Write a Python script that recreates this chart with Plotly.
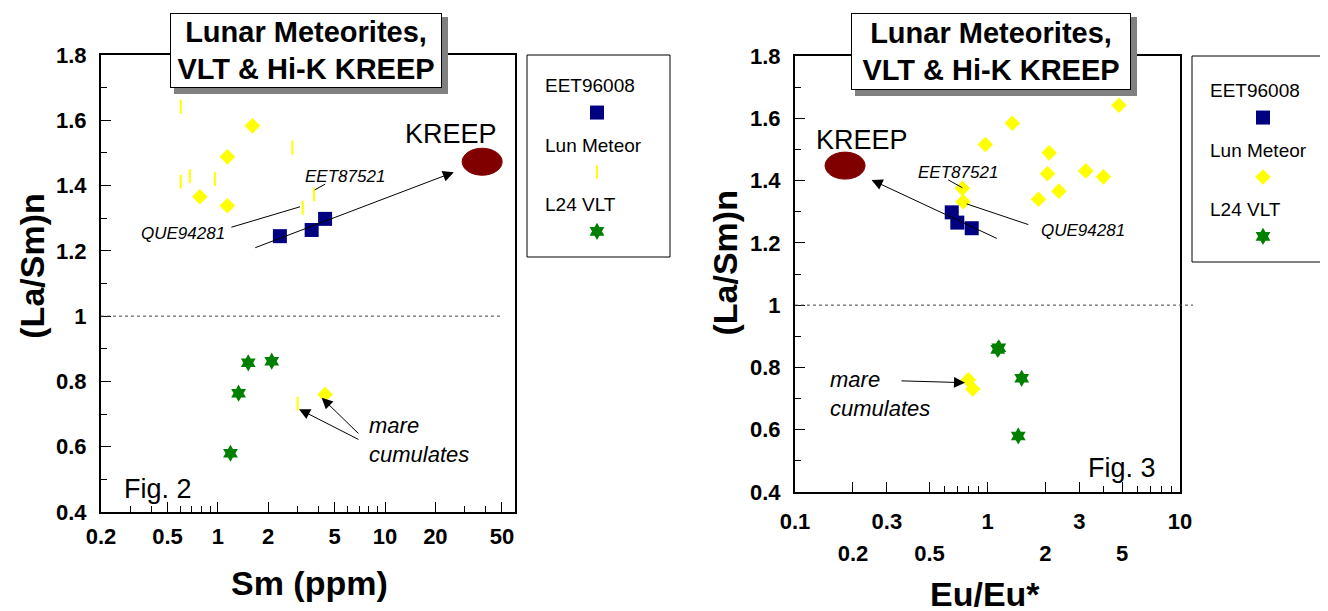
import numpy as np
import plotly.graph_objects as go

# ---------------- data: Fig. 2  (Sm ppm vs (La/Sm)n) ----------------
eet96008_sm = [2.35, 3.64, 4.38]
eet96008_lasm_f2 = [1.245, 1.264, 1.298]

lunmet_sm_bar = [0.60, 2.79, 0.60, 0.68, 0.96, 3.22, 3.76, 3.00]
lunmet_lasm_bar = [1.642, 1.516, 1.412, 1.429, 1.420, 1.332, 1.373, 0.732]
lunmet_sm_diam = [1.61, 1.14, 0.78, 1.14, 4.38]
lunmet_lasm_diam = [1.583, 1.488, 1.366, 1.338, 0.760]

l24_sm = [1.52, 2.10, 1.33, 1.19]
l24_lasm_f2 = [0.857, 0.862, 0.764, 0.580]

kreep_sm = 38.1
kreep_lasm_f2 = 1.473

# ---------------- data: Fig. 3  (Eu/Eu* vs (La/Sm)n) ----------------
eet96008_eu = [0.652, 0.697, 0.828]
eet96008_lasm_f3 = [1.298, 1.265, 1.247]

lunmet_eu = [4.82, 1.345, 0.974, 2.09, 2.05, 3.24, 4.00, 2.35, 1.84, 0.74, 0.747, 0.795, 0.838]
lunmet_lasm_f3 = [1.642, 1.584, 1.516, 1.489, 1.422, 1.431, 1.412, 1.366, 1.340, 1.375, 1.332, 0.760, 0.731]

l24_eu = [1.13, 1.145, 1.505, 1.445]
l24_lasm_f3 = [0.858, 0.863, 0.765, 0.580]

kreep_eu = 0.182
kreep_lasm_f3 = 1.448

# ---------------- tick labels ----------------
sm_ticks = [0.2, 0.5, 1, 2, 5, 10, 20, 50]
sm_minor = [0.3, 0.4, 0.6, 0.7, 0.8, 0.9, 3, 4, 6, 7, 8, 9, 30, 40]
eu_ticks_row1 = [0.1, 0.3, 1, 3, 10]
eu_ticks_row2 = [0.2, 0.5, 2, 5]
eu_minor = [0.6, 0.7, 0.8, 0.9, 4, 6, 7, 8, 9]
lasm_ticks = [0.4, 0.6, 0.8, 1, 1.2, 1.4, 1.6, 1.8]

NAVY, YELLOW, GREEN, MAROON = "#000080", "#FFFF00", "#008000", "#800000"
FONT = "Liberation Sans"
W, H = 1328, 611
OFF = 8  # page body margin of the browser


def px(x):
    return (x - OFF) / W


def py(y):
    return 1 - (y - OFF) / H


fig = go.Figure()


def pts(x, y, xa, ya, title, marker, legend, group, showlegend=True):
    fig.add_trace(go.Scatter(
        x=x, y=y, mode="markers", xaxis=xa, yaxis=ya, name="",
        legend=legend, legendgroup=group, showlegend=showlegend,
        legendgrouptitle_text=title if showlegend else None,
        marker=marker, hoverinfo="x+y"))


sq = dict(symbol="square", size=14, color=NAVY, line=dict(width=0))
dia = dict(symbol="diamond", size=12, color=YELLOW, line=dict(width=0))
bar = dict(symbol="line-ns", size=10, color=YELLOW, line=dict(width=2, color=YELLOW))
star = dict(symbol="hexagram", size=13, color=GREEN, line=dict(width=0))

# Fig. 2 traces
pts(eet96008_sm, eet96008_lasm_f2, "x", "y", "EET96008", sq, "legend", "a")
pts(lunmet_sm_bar, lunmet_lasm_bar, "x", "y", "Lun Meteor", bar, "legend", "b")
pts(lunmet_sm_diam, lunmet_lasm_diam, "x", "y", "Lun Meteor", dia, "legend", "b", showlegend=False)
pts(l24_sm, l24_lasm_f2, "x", "y", "L24 VLT", star, "legend", "c")
# Fig. 3 traces (x3 overlays x2 with the same log range; it carries the 2nd label row)
pts(eet96008_eu, eet96008_lasm_f3, "x2", "y2", "EET96008", sq, "legend2", "a2")
pts(lunmet_eu, lunmet_lasm_f3, "x2", "y2", "Lun Meteor", dia, "legend2", "b2")
pts(l24_eu, l24_lasm_f3, "x3", "y2", "L24 VLT", star, "legend2", "c2")

# ---------------- axes ----------------
X1 = (101, 515)   # screen px of left plot
Y1 = (55, 512)
X2 = (795, 1180)
Y2 = (56, 492)
sm_range = [np.log10(0.2), np.log10(59.9)]
eu_range = [-1, 1]
lasm_range = [0.4, 1.8]

tickfont = dict(family=FONT, size=22, color="black", weight="bold")
common = dict(showgrid=False, zeroline=False, showline=True, linecolor="black",
              linewidth=2, mirror=True, ticks="inside", tickcolor="black",
              tickwidth=1, ticklen=10, tickfont=tickfont, automargin=False)

yax = dict(common, range=lasm_range, tickvals=lasm_ticks,
           ticktext=[f"{v:g}" for v in lasm_ticks], ticklabelstandoff=8,
           minor=dict(dtick=0.1, ticklen=6, ticks="inside", tickcolor="black", tickwidth=1))

fig.update_layout(
    template="none",
    width=W, height=H, margin=dict(l=0, r=0, t=0, b=0, autoexpand=False),
    paper_bgcolor="white", plot_bgcolor="white",
    xaxis=dict(common, type="log", domain=[px(X1[0]), px(X1[1])], anchor="y",
               range=sm_range, tickvals=sm_ticks,
               ticktext=[f"{v:g}" for v in sm_ticks], ticklabelstandoff=4,
               minor=dict(tickvals=sm_minor, ticklen=6, ticks="inside", tickcolor="black", tickwidth=1)),
    yaxis=dict(yax, domain=[py(Y1[1]), py(Y1[0])], anchor="x"),
    xaxis2=dict(common, type="log", domain=[px(X2[0]), px(X2[1])], anchor="y2",
                range=eu_range, tickvals=eu_ticks_row1,
                ticktext=[f"{v:g}" for v in eu_ticks_row1], ticklabelstandoff=9,
                minor=dict(tickvals=eu_minor, ticklen=6, ticks="inside", tickcolor="black", tickwidth=1)),
    xaxis3=dict(type="log", overlaying="x2", anchor="y2", range=eu_range,
                domain=[px(X2[0]), px(X2[1])],
                showgrid=False, zeroline=False, showline=False, ticks="inside",
                ticklen=10, tickcolor="black", tickwidth=1, tickfont=tickfont,
                tickvals=eu_ticks_row2, ticktext=[f"{v:g}" for v in eu_ticks_row2],
                ticklabelstandoff=46, side="bottom", automargin=False),
    yaxis2=dict(yax, domain=[py(Y2[1]), py(Y2[0])], anchor="x2"),
    showlegend=True,
)

leg = dict(xanchor="left", yanchor="top", bgcolor="rgba(0,0,0,0)", borderwidth=0,
           font=dict(family=FONT, size=19, color="black"),
           grouptitlefont=dict(family=FONT, size=19, color="black"),
           itemwidth=104, tracegroupgap=4, traceorder="grouped")
fig.update_layout(legend=dict(leg, x=px(540), y=py(66)),
                  legend2=dict(leg, x=px(1205), y=py(71), itemwidth=106))

# legend frames
fig.add_shape(type="rect", xref="paper", yref="paper", x0=px(527), x1=px(670),
              y0=py(257), y1=py(55), line=dict(color="black", width=1))
fig.add_shape(type="rect", xref="paper", yref="paper", x0=px(1192), x1=px(1327),
              y0=py(262), y1=py(56), line=dict(color="black", width=1))

# dotted reference line at (La/Sm)n = 1
fig.add_shape(type="line", xref="x domain", yref="y", x0=0, x1=0.971, y0=1, y1=1,
              line=dict(color="#444", width=1, dash="dot"))
fig.add_shape(type="line", xref="x2 domain", yref="y2", x0=0, x1=1.034, y0=1, y1=1,
              line=dict(color="#444", width=1, dash="dot"))


# KREEP ellipses: 40 x 27 px, converted to data units through the axis scales
def ellipse(xa, ya, xv, yv, xr, yr, xpix, ypix, wpx=40, hpx=27):
    ppd = (xpix[1] - xpix[0]) / (xr[1] - xr[0])        # px per decade
    ppu = (ypix[1] - ypix[0]) / (yr[1] - yr[0])        # px per unit
    hx = 10 ** (wpx / 2 / ppd)
    hy = hpx / 2 / ppu
    fig.add_shape(type="circle", xref=xa, yref=ya, x0=xv / hx, x1=xv * hx,
                  y0=yv - hy, y1=yv + hy, fillcolor=MAROON, line=dict(color=MAROON, width=1))


ellipse("x", "y", kreep_sm, kreep_lasm_f2, sm_range, lasm_range, X1, Y1)
ellipse("x2", "y2", kreep_eu, kreep_lasm_f3, eu_range, lasm_range, X2, Y2)


def arrow(xa, ya, tail, head, headstyle=2, size=2.2):
    fig.add_annotation(xref=xa, yref=ya, axref=xa, ayref=ya,
                       x=np.log10(head[0]), y=head[1], ax=np.log10(tail[0]), ay=tail[1],
                       text="", showarrow=True, arrowhead=headstyle, arrowsize=size,
                       arrowwidth=1, arrowcolor="black", standoff=0)


def label(xa, ya, x, y, text, size, italic=False, xanchor="center"):
    fig.add_annotation(xref=xa, yref=ya, x=np.log10(x), y=y, text=text, showarrow=False,
                       xanchor=xanchor, yanchor="middle", align="left",
                       font=dict(family=FONT, size=size, color="black",
                                 style="italic" if italic else "normal"))


# Fig. 2 annotations
arrow("x", "y", (1.64, 1.208), (25.8, 1.441))
arrow("x", "y", (4.48, 1.407), (3.80, 1.387), headstyle=0)
arrow("x", "y", (1.18, 1.271), (3.10, 1.335), headstyle=0)
arrow("x", "y", (7.08, 0.636), (4.18, 0.750))
arrow("x", "y", (7.08, 0.620), (3.06, 0.715))
label("x", "y", 24.7, 1.557, "KREEP", 27)
label("x", "y", 5.76, 1.429, "EET87521", 17, italic=True)
label("x", "y", 0.616, 1.252, "QUE94281", 17, italic=True)
label("x", "y", 7.8, 0.622, "mare<br>cumulates", 22, italic=True, xanchor="left")
label("x", "y", 0.44, 0.470, "Fig. 2", 27)

# Fig. 3 annotations
arrow("x2", "y2", (1.138, 1.212), (0.25, 1.402))
arrow("x2", "y2", (0.614, 1.405), (0.74, 1.377), headstyle=0)
arrow("x2", "y2", (1.66, 1.257), (0.78, 1.325), headstyle=0)
arrow("x2", "y2", (0.351, 0.757), (0.764, 0.751))
label("x2", "y2", 0.222, 1.530, "KREEP", 27)
label("x2", "y2", 0.705, 1.427, "EET87521", 17, italic=True)
label("x2", "y2", 3.15, 1.241, "QUE94281", 17, italic=True)
label("x2", "y2", 0.149, 0.716, "mare<br>cumulates", 22, italic=True, xanchor="left")
label("x2", "y2", 4.98, 0.476, "Fig. 3", 27)

# axis titles
for x, y, t, ang in [(31.7, 266, "(La/Sm)n", -90), (724.5, 263, "(La/Sm)n", -90),
                     (309, 583, "Sm (ppm)", 0), (985, 594, "Eu/Eu*", 0)]:
    fig.add_annotation(xref="paper", yref="paper", x=px(x), y=py(y), text=t,
                       showarrow=False, textangle=ang, xanchor="center", yanchor="middle",
                       font=dict(family=FONT, size=34, color="black", weight="bold"))

# title boxes with drop shadow
title = "Lunar Meteorites,<br>VLT & Hi-K KREEP"
for cx, cy, w, h in [(306, 50.5, 274, 77), (991, 51.5, 282, 79)]:
    fig.add_shape(type="rect", xref="paper", yref="paper", layer="above",
                  x0=px(cx - w / 2 + 5), x1=px(cx + w / 2 + 5),
                  y0=py(cy + h / 2 + 5), y1=py(cy - h / 2 + 5),
                  fillcolor="#808080", line=dict(width=0))
    fig.add_annotation(xref="paper", yref="paper", x=px(cx), y=py(cy), text=title,
                       xanchor="center", yanchor="middle",
                       showarrow=False, width=w - 6, height=h - 6,
                       borderpad=1, borderwidth=1, bordercolor="black", bgcolor="white",
                       font=dict(family=FONT, size=29, color="black", weight="bold"))

fig.write_html("out.html")
